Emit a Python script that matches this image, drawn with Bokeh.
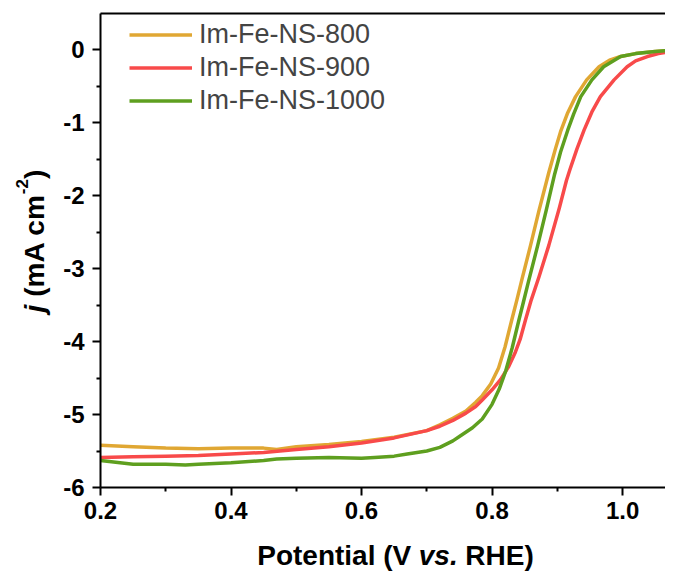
import math
from bokeh.plotting import figure
from bokeh.layouts import row, column
from bokeh.models import (Range1d, FixedTicker, CustomJSTickFormatter, Label,
                          Legend, LegendItem, LinearAxis)
from bokeh.embed import file_html
from bokeh.resources import INLINE

# ---- data ----
series_names = ["Im-Fe-NS-800", "Im-Fe-NS-900", "Im-Fe-NS-1000"]
series_colors = ["#E0A733", "#F84A4A", "#5E9F1F"]

v_800 = [0.20, 0.25, 0.30, 0.35, 0.40, 0.45, 0.47, 0.50, 0.55, 0.60, 0.65, 0.70,
         0.72, 0.74, 0.76, 0.775, 0.785, 0.798, 0.810, 0.820, 0.830, 0.838, 0.846,
         0.859, 0.872, 0.887, 0.897, 0.905, 0.916, 0.928, 0.945, 0.964, 0.980,
         0.997, 1.020, 1.050, 1.090]
j_800 = [-5.42, -5.44, -5.46, -5.47, -5.46, -5.46, -5.48, -5.44, -5.41, -5.37, -5.31, -5.22,
         -5.14, -5.05, -4.95, -4.83, -4.74, -4.58, -4.36, -4.07, -3.71, -3.43, -3.14,
         -2.68, -2.20, -1.68, -1.36, -1.12, -0.86, -0.64, -0.41, -0.23, -0.14,
         -0.09, -0.05, -0.02, 0.00]

v_900 = [0.20, 0.25, 0.30, 0.35, 0.40, 0.45, 0.50, 0.55, 0.60, 0.65, 0.70, 0.72,
         0.74, 0.76, 0.775, 0.785, 0.800, 0.813, 0.825, 0.835, 0.843, 0.851, 0.860,
         0.872, 0.887, 0.903, 0.914, 0.919, 0.930, 0.941, 0.953, 0.966, 0.987,
         1.007, 1.020, 1.038, 1.055, 1.073, 1.090]
j_900 = [-5.59, -5.58, -5.57, -5.56, -5.54, -5.52, -5.48, -5.44, -5.39, -5.32, -5.22, -5.16,
         -5.08, -4.98, -4.89, -4.80, -4.66, -4.52, -4.35, -4.16, -3.97, -3.71, -3.43,
         -3.11, -2.68, -2.17, -1.79, -1.65, -1.36, -1.10, -0.85, -0.64, -0.41,
         -0.23, -0.15, -0.09, -0.05, -0.02, -0.01]

v_1000 = [0.20, 0.25, 0.30, 0.33, 0.35, 0.40, 0.45, 0.47, 0.50, 0.55, 0.60, 0.62,
          0.65, 0.67, 0.70, 0.72, 0.74, 0.75, 0.77, 0.785, 0.800, 0.811, 0.821,
          0.831, 0.841, 0.848, 0.856, 0.870, 0.883, 0.896, 0.905, 0.916, 0.925,
          0.936, 0.953, 0.971, 0.997, 1.020, 1.050, 1.090]
j_1000 = [-5.63, -5.68, -5.68, -5.69, -5.68, -5.66, -5.63, -5.61, -5.60, -5.59, -5.60, -5.59,
          -5.57, -5.54, -5.50, -5.45, -5.36, -5.30, -5.18, -5.06, -4.86, -4.65, -4.40,
          -4.08, -3.71, -3.46, -3.17, -2.68, -2.20, -1.70, -1.40, -1.10, -0.88,
          -0.64, -0.41, -0.23, -0.09, -0.05, -0.02, 0.00]

x_ticks = [0.2, 0.4, 0.6, 0.8, 1.0]
x_minor = [0.3, 0.5, 0.7, 0.9]
y_ticks = [-6, -5, -4, -3, -2, -1, 0]
y_minor = [-5.5, -4.5, -3.5, -2.5, -1.5, -0.5]

FONT = "Liberation Sans"
FS = 28          # axis title font size (px)
SUP_FS = 17      # superscript font size

# ---- layout sizes (pixels of the whole picture) ----
TOTAL_W, TOTAL_H = 665, 571
FRAME_L, FRAME_T, FRAME_B = 99, 13, 487
YL_W = 60                 # width of the y-title strip
XL_H = 40                 # height of the x-title strip
MAIN_W = TOTAL_W - YL_W
MAIN_H = TOTAL_H - XL_H

p = figure(width=MAIN_W, height=MAIN_H, output_backend="svg", toolbar_location=None, tools="",
           title=None,
           x_range=Range1d(0.2, 1.0658), y_range=Range1d(-6, 0.5),
           min_border_left=FRAME_L - YL_W, min_border_right=0, min_border_top=FRAME_T,
           min_border_bottom=MAIN_H - FRAME_B)
p.grid.visible = False
p.outline_line_color = None
p.background_fill_color = "white"
p.border_fill_color = "white"

renderers = []
for vs, js, c in zip([v_800, v_900, v_1000], [j_800, j_900, j_1000], series_colors):
    renderers.append(p.line(vs, js, line_color=c, line_width=3.5, line_join="round"))

for ax in (p.xaxis[0], p.yaxis[0]):
    ax.axis_line_width = 2
    ax.axis_line_color = "black"
    ax.major_tick_line_width = 2
    ax.minor_tick_line_width = 2
    ax.major_tick_in = 0
    ax.major_tick_out = 8
    ax.minor_tick_in = 0
    ax.minor_tick_out = 4
    ax.major_label_text_font = FONT
    ax.major_label_text_font_style = "bold"
    ax.major_label_text_font_size = "24px"
    ax.major_label_text_color = "black"

p.xaxis[0].ticker = FixedTicker(ticks=x_ticks, minor_ticks=x_minor)
p.yaxis[0].ticker = FixedTicker(ticks=y_ticks, minor_ticks=y_minor)
p.xaxis[0].formatter = CustomJSTickFormatter(code="return tick.toFixed(1)")
p.yaxis[0].formatter = CustomJSTickFormatter(code="return tick.toFixed(0)")
p.xaxis[0].major_label_standoff = 6
p.yaxis[0].major_label_standoff = 8

top_axis = LinearAxis(ticker=FixedTicker(ticks=[]), major_tick_out=0, major_tick_in=0,
                      minor_tick_out=0, minor_tick_in=0, major_label_text_font_size="0px",
                      axis_line_width=2, axis_line_color="black")
p.add_layout(top_axis, "above")

legend = Legend(items=[LegendItem(label=n, renderers=[r]) for n, r in zip(series_names, renderers)],
                location=(29, 370.5), glyph_width=63, glyph_height=33, label_height=33,
                label_standoff=7, spacing=0, padding=0, margin=0,
                label_text_font=FONT, label_text_font_size="27px",
                border_line_color=None, background_fill_alpha=0)
p.add_layout(legend)


def strip(w, h, xr, yr):
    f = figure(width=w, height=h, output_backend="svg", toolbar_location=None, tools="",
               title=None, x_range=xr, y_range=yr,
               x_axis_type=None, y_axis_type=None,
               min_border=0, min_border_left=0, min_border_right=0,
               min_border_top=0, min_border_bottom=0)
    f.grid.visible = False
    f.outline_line_color = None
    f.background_fill_color = "white"
    f.border_fill_color = "white"
    return f


def lab(f, x, y, text, style, size, angle=0.0):
    f.add_layout(Label(x=x, y=y, text=text, text_font=FONT, text_font_style=style,
                       text_font_size=f"{size}px", text_baseline="middle",
                       text_align="left", angle=angle, text_color="black"))


MID = 0.348   # baseline-to-box-middle distance, in em

# ---- x title strip (its frame lines up with the main frame: picture x 99..665) ----
xlab = strip(MAIN_W, XL_H, Range1d(FRAME_L, TOTAL_W), Range1d(TOTAL_H, MAIN_H))
x_base = 565
x_mid = x_base - MID * FS
x0 = 256
lab(xlab, x0, x_mid, "Potential (V", "bold", FS)
lab(xlab, x0 + 5.779 * FS, x_mid, "vs.", "bold italic", FS)
lab(xlab, x0 + 7.447 * FS, x_mid, "RHE)", "bold", FS)

# ---- y title strip (picture x 0..60, y measured upward from the bottom) ----
ylab = strip(YL_W, TOTAL_H, Range1d(0, YL_W), Range1d(0, TOTAL_H))
base_x = 44
a = math.pi / 2
y0 = TOTAL_H - 311.9
lab(ylab, base_x - MID * FS, y0, "j", "bold italic", FS, a)
y2 = y0 + 0.556 * FS
lab(ylab, base_x - MID * FS, y2, "(mA cm", "bold", FS, a)
y3 = y2 + 3.667 * FS
sup_base = base_x - 17
lab(ylab, sup_base - MID * SUP_FS, y3, "-2", "bold", SUP_FS, a)
y4 = y3 + 0.889 * SUP_FS
lab(ylab, base_x - MID * FS, y4, ")", "bold", FS, a)

layout = row(ylab, column(p, xlab, spacing=0), spacing=0)

open("out.html", "w").write(file_html(layout, INLINE))
